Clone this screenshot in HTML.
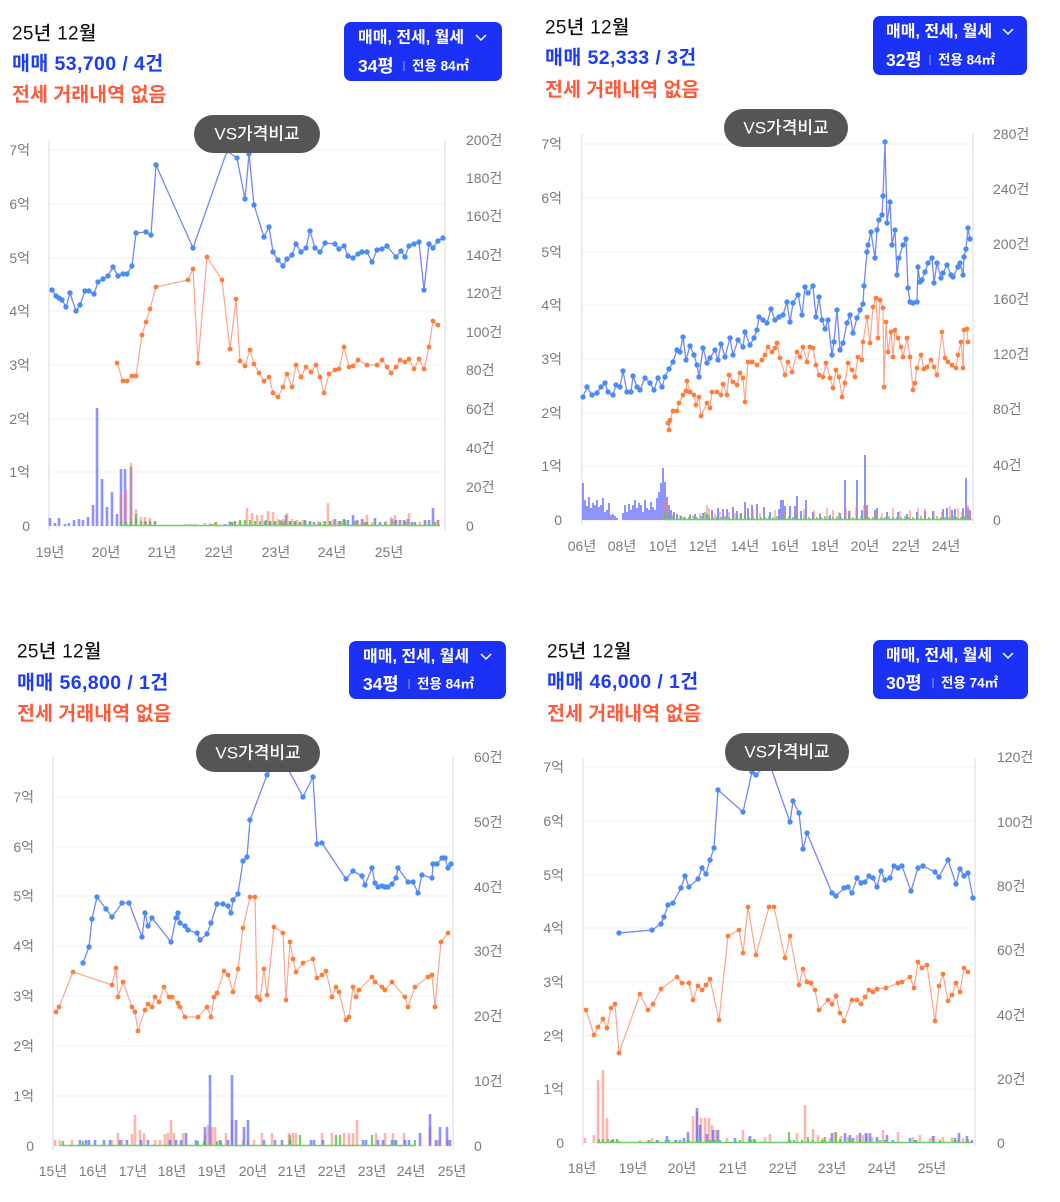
<!DOCTYPE html>
<html><head><meta charset="utf-8"><style>
html,body{margin:0;padding:0;background:#fff;}
svg{display:block;}
text{font-family:"Liberation Sans","Noto Sans CJK KR",sans-serif;}
.ax{font-size:14px;fill:#7a7a7a;}
.t1{font-size:19px;fill:#111;font-weight:500;letter-spacing:0.3px;}
.t2{font-size:19.5px;fill:#1d3cf5;font-weight:700;letter-spacing:0.4px;}
.t3{font-size:19.5px;fill:#ff5a3a;font-weight:700;}
.b1{font-size:16px;fill:#fff;font-weight:700;}
.b2{font-size:17.5px;fill:#fff;font-weight:700;}
.b3{font-size:13.5px;fill:#fff;font-weight:700;}
.vs{font-size:17px;fill:#fff;font-weight:500;}
.grid{stroke:#f0f0f0;stroke-width:1;fill:none;}
.axl{stroke:#ececec;stroke-width:2;}
.bl{fill:none;stroke:#7486f8;stroke-width:1.3;marker-start:url(#mb);marker-mid:url(#mb);marker-end:url(#mb);}
.ol{fill:none;stroke:#ffa48e;stroke-width:1.2;marker-start:url(#mo);marker-mid:url(#mo);marker-end:url(#mo);}
.bb{stroke:rgba(88,98,255,0.68);fill:none;}
.rb{stroke:rgba(255,120,100,0.55);fill:none;}
.gb{stroke:rgba(80,195,70,0.8);fill:none;}
.gl{stroke:#6bd06b;stroke-width:1.5;fill:none;}
</style></head><body>
<svg width="1060" height="1202" viewBox="0 0 1060 1202" xmlns="http://www.w3.org/2000/svg">
<defs>
<marker id="mb" markerWidth="7" markerHeight="7" refX="3.5" refY="3.5" markerUnits="userSpaceOnUse"><circle cx="3.5" cy="3.5" r="2.7" fill="#4a8cf6"/></marker>
<marker id="mo" markerWidth="6" markerHeight="6" refX="3" refY="3" markerUnits="userSpaceOnUse"><circle cx="3" cy="3" r="2.4" fill="#ff7d3a"/></marker>
</defs>

<!-- ================= PANEL 1 ================= -->
<text class="t1" x="12" y="34" dominant-baseline="central">25년 12월</text>
<text class="t2" x="12" y="64" dominant-baseline="central">매매 53,700 / 4건</text>
<text class="t3" x="12" y="95" dominant-baseline="central">전세 거래내역 없음</text>

<g>
<line class="axl" x1="49" y1="140" x2="49" y2="530"/>
<line class="axl" x1="445" y1="140" x2="445" y2="530"/>
<path class="grid" d="M50 150H445M50 204H445M50 258H445M50 311H445M50 365H445M50 419H445M50 472H445M50 526H445"/>
<g class="ax" text-anchor="end" dominant-baseline="central">
<text x="30" y="150" dominant-baseline="central">7억</text><text x="30" y="204" dominant-baseline="central">6억</text><text x="30" y="258" dominant-baseline="central">5억</text><text x="30" y="311" dominant-baseline="central">4억</text><text x="30" y="365" dominant-baseline="central">3억</text><text x="30" y="419" dominant-baseline="central">2억</text><text x="30" y="472" dominant-baseline="central">1억</text><text x="30" y="526" dominant-baseline="central">0</text>
</g>
<g class="ax">
<text x="466" y="140" dominant-baseline="central">200건</text><text x="466" y="178" dominant-baseline="central">180건</text><text x="466" y="216" dominant-baseline="central">160건</text><text x="466" y="255" dominant-baseline="central">140건</text><text x="466" y="293" dominant-baseline="central">120건</text><text x="466" y="332" dominant-baseline="central">100건</text><text x="466" y="370" dominant-baseline="central">80건</text><text x="466" y="409" dominant-baseline="central">60건</text><text x="466" y="448" dominant-baseline="central">40건</text><text x="466" y="487" dominant-baseline="central">20건</text><text x="466" y="526" dominant-baseline="central">0</text>
</g>
<g class="ax" text-anchor="middle">
<text x="50" y="552" dominant-baseline="central">19년</text><text x="106" y="552" dominant-baseline="central">20년</text><text x="162" y="552" dominant-baseline="central">21년</text><text x="219" y="552" dominant-baseline="central">22년</text><text x="276" y="552" dominant-baseline="central">23년</text><text x="332" y="552" dominant-baseline="central">24년</text><text x="389" y="552" dominant-baseline="central">25년</text>
</g>
<path class="bb" stroke-width="2.6" d="M50 526V518M55 526V523M59 526V518M65 526V524M69 526V523M74 526V520M79 526V519M83 526V520M88 526V517M93 526V505M97 526V408M102 526V479M107 526V507M112 526V492M117 526V514M121 526V469M125 526V469M131 526V467M136 526V518M145 526V521M150 526V521M155 526V521M190 526V525M225 526V524M232 526V522M265 526V521M270 526V521M275 526V521M282 526V521M286 526V515M290 526V521M295 526V521M300 526V522M305 526V520M310 526V521M314 526V522M320 526V523M330 526V521M335 526V519M340 526V521M344 526V519M348 526V520M353 526V515M357 526V520M362 526V519M367 526V522M375 526V518M380 526V522M392 526V519M396 526V520M400 526V520M404 526V520M408 526V519M412 526V522M425 526V520M429 526V520M433 526V508M438 526V520"/>
<path class="rb" stroke-width="2.6" d="M121 526V494M126 526V489M131 526V463M136 526V509M141 526V517M145 526V517M150 526V518M155 526V522M185 526V524M190 526V524M195 526V524M205 526V523M210 526V523M215 526V522M230 526V521M235 526V521M240 526V521M247 526V508M252 526V513M257 526V515M262 526V515M268 526V511M273 526V512M278 526V519M283 526V519M287 526V513M292 526V519M297 526V520M303 526V520M318 526V521M324 526V521M328 526V503M333 526V520M338 526V521M343 526V521M358 526V521M363 526V520M367 526V515M372 526V522M386 526V521M391 526V517M395 526V515M400 526V520M405 526V521M409 526V513M415 526V522M420 526V522M433 526V521M438 526V520"/>
<path class="gb" stroke-width="2.2" d="M121 526V521M126 526V522M131 526V521M136 526V514M141 526V521M146 526V522M150 526V522M165 526V525M185 526V525M212 526V524M216 526V522M230 526V522M235 526V521M240 526V520M245 526V520M250 526V520M255 526V521M260 526V521M266 526V520M270 526V521M275 526V521M280 526V520M285 526V521M290 526V521M295 526V521M300 526V522M305 526V521M310 526V522M320 526V522M325 526V521M330 526V521M340 526V521M345 526V520M355 526V521M365 526V522M375 526V522M385 526V522M395 526V521M405 526V521M415 526V522M425 526V522M435 526V522"/>
<path class="gl" d="M120 525.5H440"/>
<polyline class="bl" points="52,290 56,296 59,298 62,300 66,307 70,293 76,311 80,305 85,291 89,291 94,294 98,282 103,279 108,276 113,267 118,276 123,274 127,274 132,266 136,233 146,232 151,235 156,165 193,248 227,151 237,158 245,199 249,154 254,205 264,237 269,227 273,252 278,260 283,266 287,259 292,255 296,244 301,252 306,248 310,231 315,248 320,252 325,243 335,244 339,249 344,246 348,256 353,258 358,254 362,252 367,252 372,262 377,250 382,249 387,246 396,257 401,251 405,257 409,246 414,244 419,242 424,290 429,244 433,248 438,241 443,238"/>
<polyline class="ol" points="117,363 123,381 127,381 132,376 136,376 142,335 146,322 150,309 156,287 188,280 193,269 198,363 207,257 222,280 230,349 236,299 240,361 245,366 250,350 254,364 259,373 264,381 269,377 273,393 278,397 283,387 287,374 292,387 296,365 301,377 306,367 311,372 316,365 320,377 324,393 329,374 335,370 339,369 344,347 349,367 353,366 358,360 367,365 377,365 382,360 387,367 391,373 396,367 400,360 405,362 409,359 414,369 419,359 424,369 429,347 433,321 438,325"/>
</g>
<rect x="344" y="22" width="158" height="59" rx="7" fill="#1b31f5"/>
<text class="b1" x="358" y="38" dominant-baseline="central">매매, 전세, 월세</text>
<polyline points="476,35 481,40 486,35" fill="none" stroke="#fff" stroke-width="1.5"/>
<text class="b2" x="358" y="66" dominant-baseline="central">34평</text>
<line x1="404" y1="61" x2="404" y2="71" stroke="rgba(255,255,255,0.55)" stroke-width="1"/>
<text class="b3" x="412" y="66" dominant-baseline="central">전용 84㎡</text>
<rect x="194" y="115" width="126" height="38" rx="19" fill="#555"/>
<text class="vs" x="257" y="134" text-anchor="middle" dominant-baseline="central">VS가격비교</text>

<!-- ================= PANEL 2 ================= -->
<text class="t1" x="545" y="28" dominant-baseline="central">25년 12월</text>
<text class="t2" x="545" y="58" dominant-baseline="central">매매 52,333 / 3건</text>
<text class="t3" x="545" y="90" dominant-baseline="central">전세 거래내역 없음</text>
<g>
<line class="axl" x1="582" y1="134" x2="582" y2="524"/>
<line class="axl" x1="973" y1="134" x2="973" y2="524"/>
<path class="grid" d="M583 144H973M583 198H973M583 252H973M583 305H973M583 359H973M583 413H973M583 466H973M583 520H973"/>
<g class="ax" text-anchor="end">
<text x="562" y="144" dominant-baseline="central">7억</text><text x="562" y="198" dominant-baseline="central">6억</text><text x="562" y="252" dominant-baseline="central">5억</text><text x="562" y="305" dominant-baseline="central">4억</text><text x="562" y="359" dominant-baseline="central">3억</text><text x="562" y="413" dominant-baseline="central">2억</text><text x="562" y="466" dominant-baseline="central">1억</text><text x="562" y="520" dominant-baseline="central">0</text>
</g>
<g class="ax">
<text x="993" y="134" dominant-baseline="central">280건</text><text x="993" y="189" dominant-baseline="central">240건</text><text x="993" y="244" dominant-baseline="central">200건</text><text x="993" y="299" dominant-baseline="central">160건</text><text x="993" y="354" dominant-baseline="central">120건</text><text x="993" y="409" dominant-baseline="central">80건</text><text x="993" y="465" dominant-baseline="central">40건</text><text x="993" y="520" dominant-baseline="central">0</text>
</g>
<g class="ax" text-anchor="middle">
<text x="582" y="546" dominant-baseline="central">06년</text><text x="622" y="546" dominant-baseline="central">08년</text><text x="663" y="546" dominant-baseline="central">10년</text><text x="703" y="546" dominant-baseline="central">12년</text><text x="745" y="546" dominant-baseline="central">14년</text><text x="785" y="546" dominant-baseline="central">16년</text><text x="825" y="546" dominant-baseline="central">18년</text><text x="865" y="546" dominant-baseline="central">20년</text><text x="906" y="546" dominant-baseline="central">22년</text><text x="946" y="546" dominant-baseline="central">24년</text>
</g>
<path class="bb" stroke-width="2" d="M583 520V483M585 520V500M587 520V506M589 520V497M591 520V508M593 520V503M595 520V505M597 520V500M599 520V507M601 520V505M603 520V498M605 520V512M607 520V510M609 520V503M611 520V515M613 520V514M615 520V516M617 520V518M623 520V513M625 520V505M627 520V512M629 520V504M631 520V510M633 520V505M635 520V500M637 520V508M639 520V503M641 520V505M643 520V512M645 520V500M647 520V508M649 520V510M651 520V502M653 520V507M655 520V510M657 520V498M659 520V492M661 520V483M663 520V468M665 520V482M667 520V497M669 520V505M671 520V510M674 520V512M677 520V514M681 520V516M684 520V517M690 520V515M695 520V514M703 520V513M707 520V514M712 520V510M718 520V508M723 520V509M727 520V509M733 520V507M737 520V511M741 520V513M745 520V502M748 520V508M752 520V505M757 520V504M764 520V507M770 520V512M779 520V509M781 520V500M783 520V500M785 520V506M790 520V506M795 520V506M797 520V496M801 520V511M806 520V500M813 520V512M820 520V514M830 520V515M840 520V513M845 520V480M849 520V511M857 520V480M862 520V510M865 520V455M867 520V505M875 520V510M877 520V508M887 520V512M898 520V512M907 520V514M917 520V512M925 520V511M933 520V511M943 520V509M947 520V508M952 520V510M955 520V509M963 520V508M966 520V478M968 520V508M970 520V510"/>
<path class="rb" stroke-width="1.8" d="M665 520V500M667 520V502M672 520V514M680 520V515M690 520V514M700 520V513M707 520V505M709 520V508M715 520V514M720 520V512M729 520V512M735 520V513M740 520V514M753 520V510M760 520V513M775 520V510M785 520V512M797 520V508M804 520V509M814 520V510M820 520V513M827 520V508M833 520V510M839 520V512M846 520V508M850 520V510M856 520V507M864 520V505M866 520V505M875 520V512M882 520V513M893 520V508M900 520V511M910 520V510M918 520V508M925 520V508M934 520V511M942 520V512M950 520V506M958 520V508M962 520V512M968 520V505M970 520V510"/>
<path class="gb" stroke-width="1.6" d="M665 520V512M669 520V515M673 520V516M677 520V517M681 520V516M685 520V517M689 520V517M693 520V516M697 520V517M701 520V516M705 520V512M709 520V515M713 520V517M717 520V516M721 520V517M725 520V516M729 520V517M733 520V515M737 520V517M741 520V516M745 520V516M749 520V517M753 520V517M757 520V516M761 520V517M765 520V517M769 520V516M773 520V517M777 520V516M781 520V517M785 520V517M789 520V516M793 520V517M797 520V515M801 520V517M805 520V516M809 520V517M813 520V516M817 520V517M821 520V517M825 520V516M829 520V517M833 520V517M837 520V516M841 520V517M845 520V517M849 520V516M853 520V517M857 520V517M861 520V516M865 520V517M869 520V517M873 520V517M877 520V516M881 520V517M885 520V517M889 520V516M893 520V517M897 520V517M901 520V517M905 520V516M909 520V517M913 520V517M917 520V517M921 520V516M925 520V517M929 520V517M933 520V517M937 520V516M941 520V517M945 520V517M949 520V517M953 520V516M957 520V517M961 520V517M965 520V516M969 520V517"/>
<path class="gl" d="M664 519.5H972"/>
<polyline class="bl" points="583,397 587,387 592,395 597,393 601,387 605,383 608,392 613,395 616,385 620,387 623,371 627,392 631,392 633,376 637,387 640,390 645,378 650,383 654,390 658,378 662,387 665,377 669,369 673,362 677,350 680,352 683,337 686,360 690,346 694,355 697,365 699,377 703,348 707,363 710,358 715,350 718,360 721,344 725,357 730,338 733,355 738,340 743,347 745,332 750,345 754,338 757,330 759,317 763,320 767,323 771,309 775,320 779,317 783,315 787,302 790,322 793,303 798,295 802,315 805,287 808,293 813,286 816,317 819,297 822,320 825,329 828,320 832,355 834,342 837,310 840,350 843,343 847,323 850,315 853,333 857,318 860,310 863,304 864,286 867,252 868,245 871,232 875,258 877,230 879,220 882,215 883,196 885,142 887,223 890,202 892,245 895,230 897,275 899,258 903,245 906,239 908,288 910,302 913,303 917,302 918,267 920,282 922,280 925,272 928,263 932,258 934,283 937,263 941,278 943,273 947,265 951,275 953,277 958,267 960,263 963,275 964,257 966,249 968,228 970,239"/>
<polyline class="ol" points="668,423 669,430 670,420 673,411 677,411 679,403 683,395 686,391 687,381 690,392 694,395 696,405 699,397 701,416 707,403 710,408 712,392 717,392 721,395 723,384 727,395 729,375 733,382 737,385 740,373 743,378 745,402 748,362 752,362 757,365 762,360 765,355 768,347 772,352 775,348 777,343 780,358 785,375 788,362 792,372 797,352 800,357 803,347 807,362 810,347 813,348 816,365 819,375 823,377 826,363 830,378 833,388 836,370 839,377 842,397 845,383 848,363 852,370 855,377 858,357 862,360 863,342 867,317 870,343 873,307 876,298 878,338 880,300 883,308 884,387 886,322 888,352 891,332 893,357 895,330 898,338 901,347 903,357 907,338 910,357 913,390 915,383 917,368 921,355 924,369 927,367 931,360 934,367 937,375 942,332 945,358 948,362 952,365 956,368 958,355 961,342 963,368 964,330 967,329 968,342"/>
</g>
<rect x="873" y="16" width="154" height="59" rx="7" fill="#1b31f5"/>
<text class="b1" x="886" y="32" dominant-baseline="central">매매, 전세, 월세</text>
<polyline points="1003,29 1008,34 1013,29" fill="none" stroke="#fff" stroke-width="1.5"/>
<text class="b2" x="886" y="60" dominant-baseline="central">32평</text>
<line x1="930" y1="55" x2="930" y2="65" stroke="rgba(255,255,255,0.55)" stroke-width="1"/>
<text class="b3" x="938" y="60" dominant-baseline="central">전용 84㎡</text>
<rect x="724" y="109" width="124" height="38" rx="19" fill="#555"/>
<text class="vs" x="786" y="128" text-anchor="middle" dominant-baseline="central">VS가격비교</text>

<!-- ================= PANEL 3 ================= -->
<text class="t1" x="17" y="652" dominant-baseline="central">25년 12월</text>
<text class="t2" x="17" y="683" dominant-baseline="central">매매 56,800 / 1건</text>
<text class="t3" x="17" y="714" dominant-baseline="central">전세 거래내역 없음</text>
<g>
<line class="axl" x1="53" y1="757" x2="53" y2="1150"/>
<line class="axl" x1="453" y1="757" x2="453" y2="1150"/>
<path class="grid" d="M54 797H453M54 847H453M54 896H453M54 946H453M54 996H453M54 1046H453M54 1096H453M54 1146H453"/>
<g class="ax" text-anchor="end">
<text x="34" y="797" dominant-baseline="central">7억</text><text x="34" y="847" dominant-baseline="central">6억</text><text x="34" y="896" dominant-baseline="central">5억</text><text x="34" y="946" dominant-baseline="central">4억</text><text x="34" y="996" dominant-baseline="central">3억</text><text x="34" y="1046" dominant-baseline="central">2억</text><text x="34" y="1096" dominant-baseline="central">1억</text><text x="34" y="1146" dominant-baseline="central">0</text>
</g>
<g class="ax">
<text x="474" y="757" dominant-baseline="central">60건</text><text x="474" y="822" dominant-baseline="central">50건</text><text x="474" y="887" dominant-baseline="central">40건</text><text x="474" y="951" dominant-baseline="central">30건</text><text x="474" y="1016" dominant-baseline="central">20건</text><text x="474" y="1081" dominant-baseline="central">10건</text><text x="474" y="1146" dominant-baseline="central">0</text>
</g>
<g class="ax" text-anchor="middle">
<text x="53" y="1171" dominant-baseline="central">15년</text><text x="93" y="1171" dominant-baseline="central">16년</text><text x="133" y="1171" dominant-baseline="central">17년</text><text x="172" y="1171" dominant-baseline="central">18년</text><text x="212" y="1171" dominant-baseline="central">19년</text><text x="253" y="1171" dominant-baseline="central">20년</text><text x="292" y="1171" dominant-baseline="central">21년</text><text x="332" y="1171" dominant-baseline="central">22년</text><text x="372" y="1171" dominant-baseline="central">23년</text><text x="411" y="1171" dominant-baseline="central">24년</text><text x="452" y="1171" dominant-baseline="central">25년</text>
</g>
<path class="rb" stroke-width="2.6" d="M55 1146V1140M60 1146V1140M72 1146V1140M112 1146V1140M118 1146V1133M122 1146V1140M132 1146V1134M135 1146V1115M140 1146V1130M144 1146V1133M155 1146V1140M160 1146V1140M165 1146V1134M168 1146V1133M171 1146V1120M174 1146V1133M183 1146V1133M205 1146V1135M208 1146V1125M212 1146V1127M215 1146V1127M226 1146V1133M232 1146V1120M243 1146V1140M248 1146V1140M254 1146V1140M262 1146V1133M272 1146V1133M289 1146V1133M293 1146V1133M296 1146V1133M322 1146V1133M332 1146V1133M344 1146V1133M349 1146V1133M353 1146V1133M357 1146V1120M376 1146V1133M385 1146V1133M393 1146V1133M404 1146V1133M430 1146V1127M438 1146V1140M448 1146V1140"/>
<path class="bb" stroke-width="2.6" d="M80 1146V1140M86 1146V1140M89 1146V1140M95 1146V1140M104 1146V1140M110 1146V1140M120 1146V1140M127 1146V1140M141 1146V1140M148 1146V1140M170 1146V1140M176 1146V1140M181 1146V1140M186 1146V1133M196 1146V1140M205 1146V1127M210 1146V1075M220 1146V1140M228 1146V1140M232 1146V1075M236 1146V1120M244 1146V1127M248 1146V1120M264 1146V1140M275 1146V1140M282 1146V1140M290 1146V1140M311 1146V1140M314 1146V1140M323 1146V1140M363 1146V1140M366 1146V1140M378 1146V1140M383 1146V1140M392 1146V1140M396 1146V1140M405 1146V1140M409 1146V1140M420 1146V1133M430 1146V1114M436 1146V1140M440 1146V1127M447 1146V1127M450 1146V1140"/>
<path class="gb" stroke-width="2.2" d="M63 1146V1141M83 1146V1141M198 1146V1141M204 1146V1141M217 1146V1141M221 1146V1141M290 1146V1135M300 1146V1135M336 1146V1135M340 1146V1135M372 1146V1135M395 1146V1140M415 1146V1140"/>
<path class="gl" d="M60 1145.5H415"/>
<polyline class="bl" points="83,963 89,947 92,919 97,897 106,909 112,917 122,903 129,903 142,937 145,913 148,926 152,918 171,942 176,918 178,913 180,923 185,926 188,930 197,933 200,940 207,934 211,923 217,904 223,904 228,906 231,913 233,900 238,894 243,861 247,857 250,820 267,775 275,763 286,765 303,797 313,777 317,844 322,843 346,879 353,871 362,876 365,885 372,868 375,883 378,887 382,886 385,887 388,887 392,884 396,878 398,868 408,882 413,882 418,893 422,875 432,878 433,864 437,864 442,858 445,858 448,868 451,864"/>
<polyline class="ol" points="56,1012 59,1007 73,972 112,985 116,968 118,997 123,982 132,1007 135,1012 138,1031 145,1010 148,1004 152,1007 155,997 159,1002 164,987 169,997 172,997 178,1003 180,1007 185,1017 198,1017 207,1007 211,1017 214,997 217,993 224,971 228,975 233,992 238,969 243,928 250,897 255,897 257,997 260,1000 264,969 267,995 274,927 283,933 286,1000 290,942 293,959 296,972 303,963 313,959 317,978 322,975 326,971 332,997 336,987 339,992 346,1020 349,1017 353,987 356,997 359,990 372,977 375,982 382,987 385,990 392,982 405,997 408,1007 415,987 428,977 432,975 435,1007 441,942 448,933"/>
</g>
<rect x="349" y="641" width="157" height="58" rx="7" fill="#1b31f5"/>
<text class="b1" x="363" y="657" dominant-baseline="central">매매, 전세, 월세</text>
<polyline points="481,654 486,659 491,654" fill="none" stroke="#fff" stroke-width="1.5"/>
<text class="b2" x="363" y="684" dominant-baseline="central">34평</text>
<line x1="409" y1="679" x2="409" y2="689" stroke="rgba(255,255,255,0.55)" stroke-width="1"/>
<text class="b3" x="417" y="684" dominant-baseline="central">전용 84㎡</text>
<rect x="196" y="734" width="124" height="38" rx="19" fill="#555"/>
<text class="vs" x="258" y="753" text-anchor="middle" dominant-baseline="central">VS가격비교</text>

<!-- ================= PANEL 4 ================= -->
<text class="t1" x="547" y="652" dominant-baseline="central">25년 12월</text>
<text class="t2" x="547" y="682" dominant-baseline="central">매매 46,000 / 1건</text>
<text class="t3" x="547" y="714" dominant-baseline="central">전세 거래내역 없음</text>
<g>
<line class="axl" x1="583" y1="757" x2="583" y2="1147"/>
<line class="axl" x1="975" y1="757" x2="975" y2="1147"/>
<path class="grid" d="M584 767H975M584 821H975M584 875H975M584 928H975M584 982H975M584 1036H975M584 1089H975M584 1143H975"/>
<g class="ax" text-anchor="end">
<text x="564" y="767" dominant-baseline="central">7억</text><text x="564" y="821" dominant-baseline="central">6억</text><text x="564" y="875" dominant-baseline="central">5억</text><text x="564" y="928" dominant-baseline="central">4억</text><text x="564" y="982" dominant-baseline="central">3억</text><text x="564" y="1036" dominant-baseline="central">2억</text><text x="564" y="1089" dominant-baseline="central">1억</text><text x="564" y="1143" dominant-baseline="central">0</text>
</g>
<g class="ax">
<text x="997" y="757" dominant-baseline="central">120건</text><text x="997" y="822" dominant-baseline="central">100건</text><text x="997" y="886" dominant-baseline="central">80건</text><text x="997" y="950" dominant-baseline="central">60건</text><text x="997" y="1015" dominant-baseline="central">40건</text><text x="997" y="1079" dominant-baseline="central">20건</text><text x="997" y="1143" dominant-baseline="central">0</text>
</g>
<g class="ax" text-anchor="middle">
<text x="582" y="1168" dominant-baseline="central">18년</text><text x="633" y="1168" dominant-baseline="central">19년</text><text x="682" y="1168" dominant-baseline="central">20년</text><text x="733" y="1168" dominant-baseline="central">21년</text><text x="783" y="1168" dominant-baseline="central">22년</text><text x="832" y="1168" dominant-baseline="central">23년</text><text x="882" y="1168" dominant-baseline="central">24년</text><text x="932" y="1168" dominant-baseline="central">25년</text>
</g>
<path class="rb" stroke-width="2.6" d="M585 1143V1138M594 1143V1135M598 1143V1080M603 1143V1070M607 1143V1118M611 1143V1140M613 1143V1140M618 1143V1140M640 1143V1140M648 1143V1140M652 1143V1138M658 1143V1140M675 1143V1140M693 1143V1116M697 1143V1112M701 1143V1118M705 1143V1118M709 1143V1118M712 1143V1125M716 1143V1130M727 1143V1138M743 1143V1130M749 1143V1138M765 1143V1137M770 1143V1134M797 1143V1133M805 1143V1105M813 1143V1129M818 1143V1135M823 1143V1138M830 1143V1138M835 1143V1132M841 1143V1136M848 1143V1137M857 1143V1135M863 1143V1135M867 1143V1134M872 1143V1137M883 1143V1130M898 1143V1132M913 1143V1137M920 1143V1135M930 1143V1138M934 1143V1136M943 1143V1137M952 1143V1137M958 1143V1140M963 1143V1138M968 1143V1139"/>
<path class="bb" stroke-width="2.6" d="M612 1143V1140M657 1143V1140M666 1143V1140M667 1143V1136M676 1143V1140M680 1143V1140M684 1143V1138M688 1143V1132M697 1143V1108M700 1143V1125M707 1143V1134M713 1143V1130M718 1143V1130M735 1143V1138M750 1143V1136M754 1143V1139M790 1143V1140M832 1143V1133M845 1143V1133M850 1143V1135M853 1143V1138M860 1143V1133M866 1143V1133M870 1143V1133M877 1143V1137M885 1143V1140M887 1143V1135M893 1143V1140M910 1143V1138M916 1143V1140M933 1143V1136M955 1143V1138M959 1143V1133M967 1143V1136M972 1143V1140"/>
<path class="gb" stroke-width="2.2" d="M599 1143V1139M603 1143V1139M608 1143V1139M613 1143V1139M617 1143V1139M649 1143V1140M669 1143V1140M689 1143V1140M697 1143V1140M710 1143V1140M715 1143V1140M720 1143V1140M740 1143V1140M751 1143V1140M755 1143V1140M789 1143V1132M794 1143V1140M802 1143V1140M808 1143V1137M813 1143V1140M822 1143V1140M825 1143V1137M836 1143V1132M840 1143V1139M850 1143V1139M860 1143V1140M880 1143V1140M915 1143V1140M940 1143V1140M955 1143V1140M967 1143V1140"/>
<path class="gl" d="M597 1142.5H972"/>
<polyline class="bl" points="619,933 652,930 661,924 664,917 668,905 673,903 681,888 685,876 689,887 698,879 702,868 706,874 710,860 714,848 718,790 743,812 752,772 756,775 763,768 771,768 790,822 793,801 799,813 803,849 807,833 832,893 836,896 844,888 848,887 852,893 857,878 861,883 865,882 869,876 873,878 877,887 881,871 885,880 890,878 894,866 898,868 902,866 911,891 918,868 923,866 935,872 939,877 948,860 956,884 960,869 964,876 968,873 973,898"/>
<polyline class="ol" points="586,1010 594,1035 598,1027 603,1019 607,1028 611,1008 615,1004 619,1053 640,994 648,1010 653,1004 661,989 677,977 682,983 689,983 693,1000 698,986 702,990 706,985 710,979 719,1020 728,936 739,930 743,953 748,907 756,955 769,907 774,907 785,958 790,936 799,985 803,969 807,982 811,983 815,990 819,1010 828,1000 832,1004 836,996 840,1013 844,1021 852,1000 857,1000 861,1004 865,997 869,990 873,992 877,989 886,988 898,983 902,982 910,977 914,988 918,962 922,968 927,965 935,1021 939,986 943,974 948,1001 952,995 956,983 960,992 964,968 968,972"/>
</g>
<rect x="873" y="640" width="155" height="59" rx="7" fill="#1b31f5"/>
<text class="b1" x="886" y="656" dominant-baseline="central">매매, 전세, 월세</text>
<polyline points="1003,653 1008,658 1013,653" fill="none" stroke="#fff" stroke-width="1.5"/>
<text class="b2" x="886" y="683" dominant-baseline="central">30평</text>
<line x1="933" y1="678" x2="933" y2="688" stroke="rgba(255,255,255,0.55)" stroke-width="1"/>
<text class="b3" x="941" y="683" dominant-baseline="central">전용 74㎡</text>
<rect x="725" y="733" width="124" height="38" rx="19" fill="#555"/>
<text class="vs" x="787" y="752" text-anchor="middle" dominant-baseline="central">VS가격비교</text>
</svg>
</body></html>
